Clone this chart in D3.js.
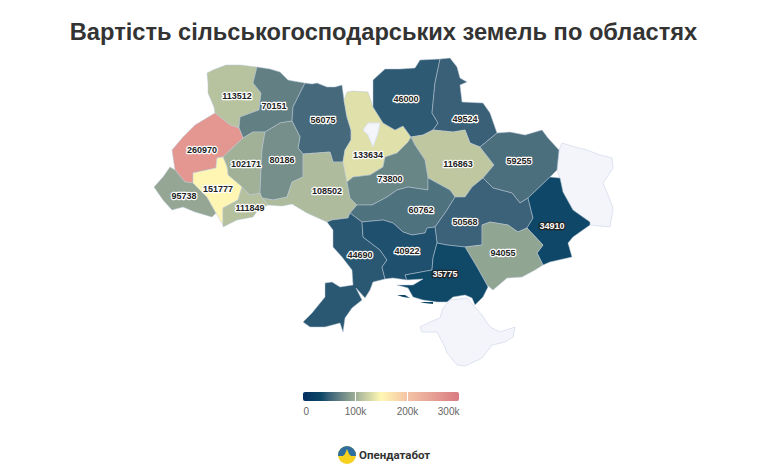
<!DOCTYPE html>
<html>
<head>
<meta charset="utf-8">
<script src="https://cdn.jsdelivr.net/npm/d3@7"></script>
<style>
  html, body { margin: 0; padding: 0; background: #fff; }
  svg { display: block; font-family: "Liberation Sans", Arial, sans-serif; }
  .region { stroke: #b8c6d6; stroke-width: 0.5; stroke-linejoin: round; }
  .empty { fill: #f4f5fa; stroke: #dde3f0; stroke-width: 1; stroke-linejoin: round; }
  .value { font-size: 9px; font-weight: bold; text-anchor: middle; paint-order: stroke; stroke-width: 2.4px; stroke-linejoin: round; }
</style>
</head>
<body>
<script>
var width = 780,
    height = 470;

var title = "Вартість сільськогосподарських земель по областях";

// oblasts with a value, same order in all four arrays
var regionValues = [113512, 70151, 56075, 260970, 102171, 80186, 108502, 95738, 151777, 111849,
  133634, 46000, 49524, 116863, 59255, 73800, 60762, 50568, 34910, 94055, 44690, 40922, 35775];

var regionNames = ["Волинська", "Рівненська", "Житомирська", "Львівська", "Тернопільська", "Хмельницька",
  "Вінницька", "Закарпатська", "Івано-Франківська", "Чернівецька", "Київська", "Чернігівська", "Сумська",
  "Полтавська", "Харківська", "Черкаська", "Кіровоградська", "Дніпропетровська", "Донецька", "Запорізька",
  "Одеська", "Миколаївська", "Херсонська"];

// outlines in map units
var regionOutlines = [
  [[207,73],[213,70],[226,65],[240,65],[257,67],[253,83],[261,93],[259,110],[240,117],[239,128],[230,125],[215,113],[214,107],[208,93],[208,83]],
  [[257,67],[270,69],[280,72],[288,80],[293,81],[305,83],[300,93],[293,107],[292,121],[280,123],[265,132],[253,132],[243,138],[239,128],[240,117],[259,110],[261,93],[253,83]],
  [[305,83],[312,84],[317,83],[327,87],[335,87],[342,85],[344,100],[347,117],[351,130],[351,140],[345,150],[343,162],[333,162],[330,152],[303,154],[298,148],[300,137],[292,121],[293,107],[300,93]],
  [[215,113],[230,125],[239,128],[243,138],[223,157],[217,158],[216,168],[193,173],[193,183],[185,182],[175,170],[172,150],[183,137],[195,125]],
  [[243,138],[253,132],[265,132],[262,150],[260,193],[250,195],[242,187],[228,175],[227,167],[223,157]],
  [[265,132],[280,123],[292,121],[300,137],[298,148],[303,154],[303,177],[292,182],[287,197],[273,200],[262,198],[260,193],[262,150]],
  [[303,154],[330,152],[333,162],[343,162],[345,172],[347,182],[350,198],[357,205],[350,213],[348,218],[332,220],[327,222],[307,213],[292,204],[282,206],[268,205],[262,198],[273,200],[287,197],[292,182],[303,177]],
  [[170,167],[175,170],[185,182],[193,183],[207,197],[216,213],[212,217],[195,212],[183,207],[172,210],[163,200],[154,187],[163,177]],
  [[217,158],[223,157],[227,167],[228,175],[242,187],[238,200],[223,208],[223,225],[216,213],[207,197],[193,183],[193,173],[216,168]],
  [[238,200],[242,187],[250,195],[260,193],[262,198],[268,205],[258,210],[253,217],[237,220],[223,227],[223,208]],
  [[344,100],[347,92],[353,91],[368,92],[373,107],[383,123],[395,130],[403,126],[411,137],[408,142],[397,153],[385,157],[383,167],[370,175],[353,177],[347,182],[345,172],[343,162],[345,150],[351,140],[351,130],[347,117]],
  [[373,80],[385,69],[400,69],[415,68],[420,60],[440,59],[435,83],[432,113],[438,123],[433,130],[423,135],[411,137],[403,126],[395,130],[383,123],[373,107]],
  [[440,59],[450,58],[457,67],[460,78],[467,82],[460,85],[462,102],[483,103],[490,113],[497,133],[480,147],[470,143],[465,130],[453,132],[433,130],[438,123],[432,113],[435,83]],
  [[411,137],[423,135],[433,130],[453,132],[465,130],[470,143],[480,147],[494,165],[483,178],[472,187],[465,197],[455,197],[450,190],[428,178],[425,160],[415,145]],
  [[497,133],[510,132],[525,135],[542,130],[548,138],[559,150],[557,170],[550,177],[528,198],[520,203],[512,193],[493,188],[483,178],[494,165],[480,147]],
  [[347,182],[353,177],[370,175],[383,167],[385,157],[397,153],[408,142],[411,137],[415,145],[425,160],[428,178],[428,190],[408,187],[397,190],[387,197],[372,205],[357,205],[350,198]],
  [[350,213],[357,205],[372,205],[387,197],[397,190],[408,187],[428,190],[428,178],[450,190],[455,197],[447,210],[435,227],[427,228],[425,233],[412,235],[403,232],[393,223],[383,220],[362,222]],
  [[455,197],[465,197],[472,187],[483,178],[493,188],[512,193],[520,203],[528,198],[533,218],[527,228],[518,232],[508,225],[490,222],[482,225],[482,245],[465,247],[447,245],[437,243],[435,227],[447,210]],
  [[528,198],[550,177],[560,178],[563,192],[573,210],[590,222],[590,225],[573,237],[568,243],[572,257],[550,262],[543,265],[537,253],[543,245],[527,228],[533,218]],
  [[482,225],[490,222],[508,225],[518,232],[527,228],[543,245],[537,253],[543,265],[535,270],[522,277],[507,278],[493,290],[487,285],[477,267],[465,247],[482,245]],
  [[327,222],[332,220],[348,218],[350,213],[362,222],[363,237],[380,250],[387,260],[382,267],[385,279],[373,282],[370,290],[365,298],[356,288],[362,300],[352,308],[345,318],[343,332],[340,323],[325,327],[310,327],[303,322],[312,313],[325,297],[325,283],[332,282],[340,287],[353,285],[352,270],[342,257],[333,247],[333,230]],
  [[362,222],[383,220],[393,223],[403,232],[412,235],[425,233],[427,228],[435,227],[437,243],[433,258],[432,270],[405,275],[407,280],[393,278],[385,279],[382,267],[387,260],[380,250],[363,237]],
  [[437,243],[447,245],[465,247],[477,267],[487,285],[488,287],[483,297],[475,305],[472,298],[465,295],[453,297],[447,302],[437,302],[423,300],[413,297],[408,288],[397,285],[413,285],[423,279],[407,280],[405,275],[432,270],[433,258]]
];

// where each value sits on the map
var labelPoints = [[237,96],[274,106],[323,120],[202,150],[246,164],[282,160],[327,191],[184,196],[218,189],[250,208],
  [368,155],[406,99],[465,119],[458,164],[519,161],[390,179],[421,210],[465,222],[552,226],[503,253],[360,255],[407,251],[445,274]];

// thin spits off the Kherson coast
var spitOutlines = [
  [[397,295],[405,295],[410,298],[403,297]],
  [[420,302],[433,302],[433,304],[424,303]]
];
var spitValue = 35775;

// no data: Luhansk, Crimea, Kyiv city
var emptyOutlines = [
  [[559,150],[562,143],[575,147],[587,150],[600,155],[612,158],[613,168],[603,183],[608,195],[613,208],[610,227],[590,225],[590,222],[573,210],[563,192],[560,178],[557,170]],
  [[420,327],[430,322],[440,318],[443,308],[450,300],[467,298],[473,305],[482,315],[490,327],[500,332],[515,327],[513,337],[505,342],[492,345],[482,358],[465,366],[457,365],[447,353],[445,347],[437,332],[422,332]],
  [[363,130],[368,123],[380,123],[378,133],[373,147],[368,135]]
];

var colorStops = [0, 35000, 50000, 100000, 150000, 200000, 300000];
var colorRange = ["#04305f", "#0e4767", "#3a6178", "#9dae97", "#fff8b3", "#f4c4a6", "#d87b82"];
var legendTicks = [0, 100000, 200000, 300000];

var color = d3.scaleLinear().domain(colorStops).range(colorRange);

var svg = d3.select("body").append("svg")
    .attr("width", width)
    .attr("height", height);

svg.append("text")
    .attr("x", 383.5)
    .attr("y", 40)
    .attr("text-anchor", "middle")
    .attr("font-size", 23.65)
    .attr("font-weight", "bold")
    .attr("fill", "#333")
    .text(title);

// map
var path = d3.geoPath(d3.geoIdentity());

var toPolygon = function(outline) {
  return { type: "Polygon", coordinates: [outline.concat([outline[0]])] };
};

svg.append("g").selectAll("path")
    .data(emptyOutlines)
    .enter().append("path")
    .attr("class", "empty")
    .attr("d", function(d) { return path(toPolygon(d)); });

var regions = regionValues.map(function(v, i) {
  return { name: regionNames[i], value: v, outline: regionOutlines[i], label: labelPoints[i] };
});

svg.append("g").selectAll("path")
    .data(regions)
    .enter().append("path")
    .attr("class", "region")
    .attr("fill", function(d) { return color(d.value); })
    .attr("d", function(d) { return path(toPolygon(d.outline)); })
    .append("title").text(function(d) { return d.name; });

svg.append("g").selectAll("path")
    .data(spitOutlines)
    .enter().append("path")
    .attr("fill", color(spitValue))
    .attr("d", function(d) { return path(toPolygon(d)); });

// Kyiv city sits on top of the oblast
svg.append("path")
    .attr("class", "empty")
    .attr("d", path(toPolygon(emptyOutlines[2])));

svg.append("g").selectAll("text")
    .data(regions)
    .enter().append("text")
    .attr("class", "value")
    .attr("x", function(d) { return d.label[0]; })
    .attr("y", function(d) { return d.label[1] + 3; })
    .attr("fill", function(d) { return d.value < 40000 ? "#fff" : "#222"; })
    .attr("stroke", function(d) { return d.value < 40000 ? "#222" : "#fff"; })
    .text(function(d) { return d.value; });

// legend
var legendX = d3.scaleLinear().domain([0, 300000]).range([303, 459]);

var gradient = svg.append("defs").append("linearGradient")
    .attr("id", "legend-gradient");

gradient.selectAll("stop")
    .data(colorStops)
    .enter().append("stop")
    .attr("offset", function(d) { return d / 300000; })
    .attr("stop-color", function(d) { return color(d); });

svg.append("rect")
    .attr("x", legendX(0))
    .attr("y", 392)
    .attr("width", legendX(300000) - legendX(0))
    .attr("height", 9)
    .attr("rx", 2)
    .attr("fill", "url(#legend-gradient)");

var legendAxis = svg.append("g")
    .attr("transform", "translate(0,392)")
    .call(d3.axisBottom(legendX)
      .tickValues(legendTicks)
      .tickSize(9)
      .tickPadding(7)
      .tickFormat(function(d) { return d === 0 ? "0" : d / 1000 + "k"; }));

legendAxis.select(".domain").remove();
legendAxis.selectAll("line")
    .attr("stroke", "#fff")
    .attr("stroke-opacity", function(d) { return d === 0 || d === 300000 ? 0 : 1; });
legendAxis.selectAll("text")
    .attr("fill", "#666")
    .attr("font-family", "Liberation Sans, Arial, sans-serif")
    .attr("font-size", 10)
    .attr("text-anchor", function(d) { return d === 0 ? "start" : d === 300000 ? "end" : "middle"; });

// logo
var logo = svg.append("g").attr("transform", "translate(347,455)");
logo.append("clipPath").attr("id", "logo-clip").append("circle").attr("r", 9);
logo.append("rect").attr("x", -9).attr("y", -9).attr("width", 18).attr("height", 18)
    .attr("fill", "#f6d21e").attr("clip-path", "url(#logo-clip)");
logo.append("path")
    .attr("clip-path", "url(#logo-clip)")
    .attr("fill", "#2f6f9f")
    .attr("d", "M-9,-9H9V1H4L2,-1L0,-6L-2,-1L-4,1H-9Z");

svg.append("text")
    .attr("x", 359)
    .attr("y", 459)
    .attr("font-family", "Roboto, sans-serif")
    .attr("font-size", 11.5)
    .attr("font-weight", "bold")
    .attr("fill", "#333")
    .text("Опендатабот");
</script>
</body>
</html>
